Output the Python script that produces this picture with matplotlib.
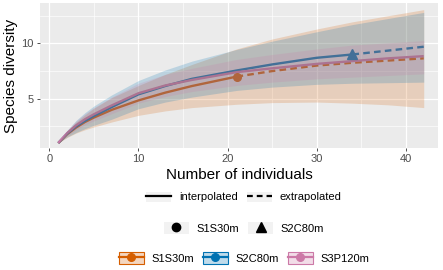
import matplotlib
matplotlib.use("Agg")
import matplotlib.pyplot as plt
from matplotlib.patches import Patch
from matplotlib.lines import Line2D
from matplotlib.legend_handler import HandlerTuple
from matplotlib.colors import to_rgba
import numpy as np

plt.rcParams['font.family'] = ['Liberation Sans', 'DejaVu Sans']

# ---- data ----
sites = ["S1S30m", "S2C80m", "S3P120m"]
colors = ["#D55E00", "#0072B2", "#CC79A7"]
observed_n = [21, 34, 42]
observed_shape = ["o", "^", None]

n_s1 = [1, 2, 3, 4, 5, 7, 10, 13, 16, 21, 25, 30, 34, 38, 42]
qd_s1 = [1, 1.8, 2.4, 2.9, 3.3, 4.0, 4.85, 5.55, 6.15, 7.0, 7.5, 8.0, 8.25, 8.45, 8.65]
lo_s1 = [1, 1.5, 1.9, 2.2, 2.45, 2.9, 3.5, 3.9, 4.2, 4.5, 4.65, 4.7, 4.6, 4.45, 4.2]
hi_s1 = [1, 2.1, 2.9, 3.55, 4.15, 5.1, 6.2, 7.2, 8.1, 9.5, 10.4, 11.3, 11.95, 12.5, 13.05]

n_s2 = [1, 2, 3, 4, 5, 7, 10, 13, 16, 21, 25, 30, 34, 38, 42]
qd_s2 = [1, 1.85, 2.5, 3.0, 3.45, 4.25, 5.4, 6.15, 6.8, 7.55, 8.1, 8.7, 9.0, 9.35, 9.7]
lo_s2 = [1, 1.55, 1.95, 2.3, 2.6, 3.15, 4.1, 4.7, 5.15, 5.75, 6.05, 6.3, 6.4, 6.45, 6.5]
hi_s2 = [1, 2.15, 3.05, 3.75, 4.35, 5.35, 6.65, 7.6, 8.4, 9.45, 10.2, 11.05, 11.7, 12.25, 12.8]

n_s3 = [1, 2, 3, 4, 5, 7, 10, 13, 16, 21, 25, 30, 34, 38, 42]
qd_s3 = [1, 1.9, 2.6, 3.15, 3.6, 4.4, 5.5, 6.2, 6.7, 7.4, 7.75, 8.15, 8.4, 8.65, 8.85]
lo_s3 = [1, 1.65, 2.2, 2.65, 3.0, 3.65, 4.6, 5.2, 5.65, 6.2, 6.5, 6.8, 6.95, 7.1, 7.25]
hi_s3 = [1, 2.15, 3.0, 3.65, 4.2, 5.15, 6.4, 7.2, 7.75, 8.55, 9.0, 9.5, 9.85, 10.05, 10.25]

series = [
    (n_s1, qd_s1, lo_s1, hi_s1),
    (n_s2, qd_s2, lo_s2, hi_s2),
    (n_s3, qd_s3, lo_s3, hi_s3),
]

x_ticks = [0, 10, 20, 30, 40]
y_ticks = [5, 10]

# ---- figure ----
W, H = 443, 270
fig = plt.figure(figsize=(W / 100, H / 100), dpi=100)
ax = fig.add_axes([40 / W, 1 - 148 / H, 398 / W, 145 / H])
ax.set_facecolor("#EBEBEB")
for s in ax.spines.values():
    s.set_visible(False)

ax.set_xlim(-1.05, 43.6)
ax.set_ylim(0.55, 13.65)
ax.set_xticks(x_ticks)
ax.set_yticks(y_ticks)
ax.set_xticks([5, 15, 25, 35], minor=True)
ax.set_yticks([2.5, 7.5, 12.5], minor=True)
ax.grid(which="major", color="white", lw=0.9)
ax.grid(which="minor", color="white", lw=0.45)
ax.set_axisbelow(True)
ax.tick_params(which="major", length=2.5, width=0.6, color="#333333",
               labelsize=8, labelcolor="#4D4D4D", pad=2)
ax.tick_params(which="minor", length=0)

lw = 1.7
for (n, qd, lo, hi), col, nobs, shp in zip(series, colors, observed_n, observed_shape):
    n = np.array(n); qd = np.array(qd)
    m_int = n <= nobs
    m_ext = n >= nobs
    ax.plot(n[m_int], qd[m_int], color=col, lw=lw, solid_capstyle="butt", zorder=2)
    if m_ext.sum() > 1:
        ax.plot(n[m_ext], qd[m_ext], color=col, lw=lw, dashes=(2.8, 1.8), zorder=2)
    if shp is not None:
        yobs = qd[n == nobs][0]
        ax.plot([nobs], [yobs], marker=shp, color=col,
                ms=5.5 if shp == "o" else 7.5, ls="none", zorder=3)

for (n, qd, lo, hi), col in zip(series, colors):
    ax.fill_between(n, lo, hi, color=col, alpha=0.2, lw=0, zorder=4)

ax.set_xlabel("Number of individuals", fontsize=11, labelpad=3)
ax.set_ylabel("Species diversity", fontsize=11, labelpad=4)
ax.yaxis.set_label_coords(-22 / 398, 0.5)

# ---- legends ----
key_bg = "#F2F2F2"
fs = 8
ov = {tuple: HandlerTuple(ndivide=1)}
h1 = [(Patch(facecolor=key_bg, edgecolor="none"), Line2D([], [], color="black", lw=1.6)),
      (Patch(facecolor=key_bg, edgecolor="none"), Line2D([], [], color="black", lw=1.6, dashes=(2.6, 1.8)))]
leg1 = fig.legend(h1, ["interpolated", "extrapolated"], loc="center",
                  bbox_to_anchor=(244 / W, 1 - 197 / H), ncol=2, frameon=False,
                  fontsize=fs, handlelength=2.25, handleheight=1.0, handletextpad=0.7,
                  columnspacing=0.8, handler_map=ov)

h2 = [(Patch(facecolor=key_bg, edgecolor="none"), Line2D([], [], color="black", marker="o", ms=6, ls="none")),
      (Patch(facecolor=key_bg, edgecolor="none"), Line2D([], [], color="black", marker="^", ms=7.5, ls="none"))]
leg2 = fig.legend(h2, sites[:2], loc="center",
                  bbox_to_anchor=(244 / W, 1 - 228 / H), ncol=2, frameon=False,
                  fontsize=fs, handlelength=2.25, handleheight=1.2, handletextpad=0.7,
                  columnspacing=0.8, handler_map=ov)

h3 = [(Patch(facecolor=to_rgba(c, 0.25), edgecolor=c, lw=0.8),
       Line2D([], [], color=c, lw=1.6, marker="o", ms=5.5)) for c in colors]
leg3 = fig.legend(h3, sites, loc="center",
                  bbox_to_anchor=(244 / W, 1 - 258 / H), ncol=3, frameon=False,
                  fontsize=fs, handlelength=2.25, handleheight=1.2, handletextpad=0.7,
                  columnspacing=0.8, handler_map=ov)

fig.savefig("out.png", dpi=100)
